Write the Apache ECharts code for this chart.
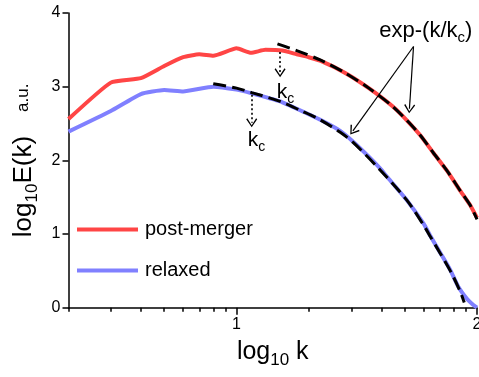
<!DOCTYPE html>
<html>
<head>
<meta charset="utf-8">
<script src="https://cdn.jsdelivr.net/npm/echarts@6/dist/echarts.min.js"></script>
<style>
  html, body { margin: 0; padding: 0; background: #fff; }
  #chart { width: 479px; height: 377px; }
</style>
</head>
<body>
<div id="chart"></div>
<script>
// Energy spectra, log10 E(k) against log10 k
const postMergerLogK = [0.301, 0.477, 0.602, 0.699, 0.778, 0.845, 0.903, 1.0, 1.06, 1.12, 1.19, 1.25, 1.30, 1.35, 1.45, 1.55, 1.65, 1.715, 1.764, 1.819, 1.875, 1.93, 1.97, 2.0];
const postMergerLogE = [2.56, 3.055, 3.115, 3.28, 3.40, 3.44, 3.42, 3.52, 3.46, 3.50, 3.49, 3.44, 3.40, 3.35, 3.19, 2.98, 2.73, 2.52, 2.34, 2.10, 1.86, 1.59, 1.40, 1.22];

const relaxedLogK = [0.301, 0.477, 0.602, 0.699, 0.778, 0.903, 1.0, 1.063, 1.181, 1.264, 1.348, 1.431, 1.486, 1.55, 1.597, 1.625, 1.708, 1.778, 1.805, 1.85, 1.889, 1.923, 1.958, 1.98, 2.0];
const relaxedLogE = [2.39, 2.67, 2.90, 2.955, 2.935, 3.0, 2.96, 2.91, 2.80, 2.68, 2.55, 2.40, 2.25, 2.05, 1.89, 1.78, 1.46, 1.14, 0.98, 0.73, 0.51, 0.28, 0.12, 0.05, 0.0];

// Exponential cut-off fits exp-(k/kc)
const postMergerFitLogK = [1.17, 1.25, 1.35, 1.45, 1.55, 1.65, 1.715, 1.764, 1.819, 1.875, 1.93, 1.97, 2.0];
const postMergerFitLogE = [3.58, 3.49, 3.36, 3.19, 2.98, 2.73, 2.52, 2.34, 2.10, 1.86, 1.59, 1.40, 1.20];

const relaxedFitLogK = [0.903, 1.0, 1.063, 1.181, 1.264, 1.348, 1.431, 1.486, 1.597, 1.708, 1.778, 1.805, 1.889, 1.93, 1.947];
const relaxedFitLogE = [3.04, 2.98, 2.92, 2.80, 2.68, 2.55, 2.38, 2.24, 1.87, 1.46, 1.12, 0.97, 0.50, 0.22, 0.07];

// Cut-off wavenumbers (log10 kc)
const postMergerLogKc = 1.181;
const relaxedLogKc = 1.063;

// Axis ticks
const xMajorTicks = [1, 2];
const xMinorK = [2, 3, 4, 5, 6, 7, 8, 9, 20, 30, 40, 50, 60, 70, 80, 90];
const yTicks = [0, 1, 2, 3, 4];

const FONT = '"Liberation Sans", Arial, Helvetica, sans-serif';
const RED = '#ff4545';
const BLUE = '#8080ff';

const pairs = (xs, ys) => xs.map((x, i) => [x, ys[i]]);
const xMinorTicks = xMinorK.map(k => Math.log10(k));
const X_MIN = Math.log10(2);
const X_MAX = 2;

// open chevron arrow head, tip up
const CHEVRON = 'path://M10,0 L20,15 L18,16.8 L10,4 L2,16.8 L0,15 Z';

const chart = echarts.init(document.getElementById('chart'));

chart.setOption({
  animation: false,
  backgroundColor: '#fff',
  textStyle: { fontFamily: FONT },
  grid: {
    left: 68.5, right: 2, top: 13, bottom: 69.3,
    containLabel: false, outerBoundsMode: 'none'
  },
  legend: {
    data: [
      { name: 'post-merger', icon: 'rect' },
      { name: 'relaxed', icon: 'rect' }
    ],
    orient: 'vertical',
    left: 72, top: 214.5,
    itemWidth: 61, itemHeight: 4, itemGap: 21,
    textStyle: { fontSize: 20, color: '#000', fontFamily: FONT, padding: [0, 0, 0, 2] }
  },
  xAxis: [
    {
      type: 'value', min: X_MIN, max: X_MAX,
      position: 'bottom',
      axisLine: { show: true, lineStyle: { color: '#000', width: 1.5 } },
      axisTick: { show: true, inside: false, length: 7, lineStyle: { color: '#000', width: 1.5 }, customValues: xMajorTicks },
      axisLabel: { show: true, customValues: xMajorTicks, color: '#000', fontSize: 16, fontFamily: FONT, margin: 9, showMaxLabel: true, showMinLabel: true },
      splitLine: { show: false },
      name: '{m|log}{s|10}{m| k}',
      nameLocation: 'middle',
      nameGap: 27,
      nameTextStyle: {
        color: '#000', fontFamily: FONT,
        rich: {
          m: { fontSize: 25, fontFamily: FONT, color: '#000' },
          s: { fontSize: 17, fontFamily: FONT, color: '#000', padding: [17, 0, 0, 0] }
        }
      }
    },
    {
      type: 'value', min: X_MIN, max: X_MAX,
      position: 'bottom', offset: 0,
      axisLine: { show: false },
      axisTick: { show: true, inside: false, length: 4, lineStyle: { color: '#000', width: 1.5 }, customValues: xMinorTicks },
      axisLabel: { show: false },
      splitLine: { show: false }
    }
  ],
  yAxis: {
    type: 'value', min: 0, max: 4, interval: 1,
    axisLine: { show: true, lineStyle: { color: '#000', width: 1.5 } },
    axisTick: { show: true, inside: false, length: 6, lineStyle: { color: '#000', width: 1.5 }, customValues: yTicks },
    axisLabel: { color: '#000', fontSize: 16, fontFamily: FONT, margin: 8, customValues: yTicks },
    splitLine: { show: false },
    name: '{m|log}{s|10}{m|E(k)}{g| }{u|a.u.}',
    nameLocation: 'middle',
    nameRotate: 90,
    nameGap: 28,
    nameTextStyle: {
      color: '#000', fontFamily: FONT,
      rich: {
        m: { fontSize: 26, fontFamily: FONT, color: '#000' },
        s: { fontSize: 17, fontFamily: FONT, color: '#000', padding: [17, 0, 0, 0] },
        g: { fontSize: 10, width: 24 },
        u: { fontSize: 17, fontFamily: FONT, color: '#000' }
      }
    }
  },
  series: [
    {
      name: 'post-merger', type: 'line', xAxisIndex: 0,
      data: pairs(postMergerLogK, postMergerLogE),
      symbol: 'none', showSymbol: false, smooth: 0.15,
      lineStyle: { color: RED, width: 4 }, itemStyle: { color: RED },
      z: 2
    },
    {
      name: 'relaxed', type: 'line', xAxisIndex: 0,
      data: pairs(relaxedLogK, relaxedLogE),
      symbol: 'none', showSymbol: false, smooth: 0.15,
      lineStyle: { color: BLUE, width: 4 }, itemStyle: { color: BLUE },
      z: 2
    },
    {
      name: 'post-merger fit', type: 'line', xAxisIndex: 0,
      data: pairs(postMergerFitLogK, postMergerFitLogE),
      symbol: 'none', showSymbol: false, smooth: 0.3,
      lineStyle: { color: '#000', width: 3, type: [13, 6], cap: 'butt' },
      z: 3
    },
    {
      name: 'relaxed fit', type: 'line', xAxisIndex: 0,
      data: pairs(relaxedFitLogK, relaxedFitLogE),
      symbol: 'none', showSymbol: false, smooth: 0.3,
      lineStyle: { color: '#000', width: 3, type: [13, 6], cap: 'butt' },
      z: 3
    },
    {
      // annotations: kc markers and fit labels
      name: 'annotations', type: 'line', xAxisIndex: 0, data: [],
      z: 4,
      markLine: {
        silent: true, animation: false,
        symbol: ['none', CHEVRON],
        symbolSize: [11, 9],
        label: { show: false },
        emphasis: { disabled: true },
        lineStyle: { color: '#000', width: 1.6, type: [2, 2.5] },
        data: [
          [{ coord: [postMergerLogKc, 3.47] }, { coord: [postMergerLogKc, 3.19] }],
          [{ coord: [relaxedLogKc, 2.89] }, { coord: [relaxedLogKc, 2.51] }],
          [{ coord: [1.736, 3.545], lineStyle: { type: 'solid', width: 1.2 }, symbolSize: [14, 11] }, { coord: [1.484, 2.40] }],
          [{ coord: [1.736, 3.545], lineStyle: { type: 'solid', width: 1.2 }, symbolSize: [14, 11] }, { coord: [1.719, 2.70] }]
        ]
      },
      markPoint: {
        silent: true, animation: false,
        symbol: 'rect', symbolSize: 1,
        itemStyle: { color: 'rgba(0,0,0,0)' },
        label: {
          show: true, position: 'inside', color: '#000', fontFamily: FONT,
          rich: {
            k: { fontSize: 21, fontFamily: FONT, color: '#000' },
            c: { fontSize: 14, fontFamily: FONT, color: '#000', padding: [14, 0, 0, 0] },
            e: { fontSize: 22, fontFamily: FONT, color: '#000' },
            ec: { fontSize: 15, fontFamily: FONT, color: '#000', padding: [15, 0, 0, 0] }
          }
        },
        data: [
          { coord: [1.204, 2.93], label: { formatter: '{k|k}{c|c}' } },
          { coord: [1.083, 2.28], label: { formatter: '{k|k}{c|c}' } },
          { coord: [1.787, 3.76], label: { formatter: '{e|exp-(k/k}{ec|c}{e|)}' } }
        ]
      }
    }
  ]
});
</script>
</body>
</html>
